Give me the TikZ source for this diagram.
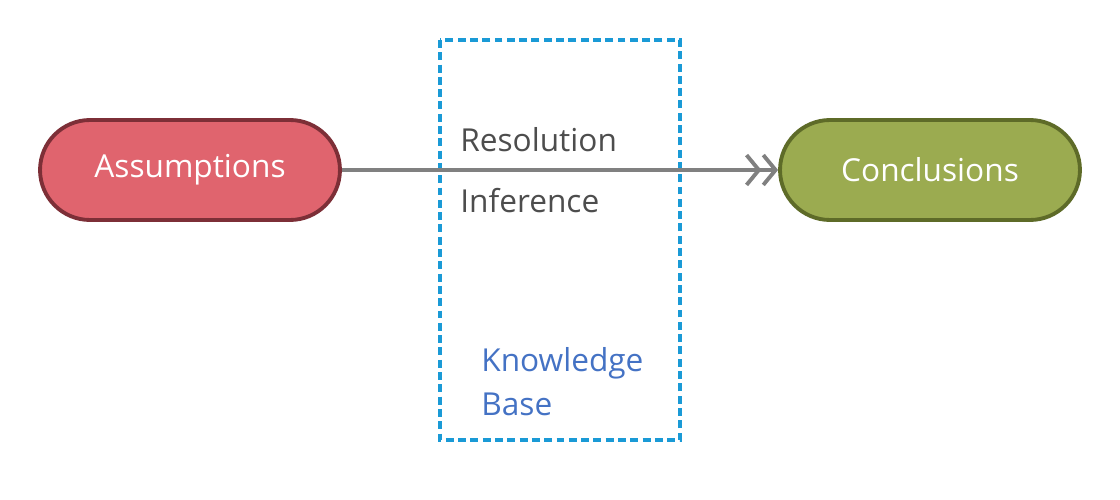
\documentclass[tikz,border=0pt]{standalone}
\usepackage{fontspec}
\setmainfont{Open Sans}
\usetikzlibrary{arrows.meta}
\definecolor{assumefill}{HTML}{E0646E}
\definecolor{assumedraw}{HTML}{7D2F37}
\definecolor{concfill}{HTML}{9BAB50}
\definecolor{concdraw}{HTML}{5E6B28}
\definecolor{kbblue}{HTML}{1A9AD6}
\definecolor{kbtext}{HTML}{4472C4}
\definecolor{labgray}{HTML}{4D4D4D}
\begin{document}
\begin{tikzpicture}
  [x=0.02cm, y=-0.02cm,
   every node/.style={font=\fontsize{18}{24.5}\selectfont},
   pill/.style={rectangle, rounded corners=1cm, minimum width=6cm, minimum height=2cm,
                line width=2.2pt, text=white},
   kbbox/.style={draw=kbblue, line width=2pt, dash pattern=on 4.5pt off 2.5pt},
   rule/.style={draw=gray, line width=2.2pt}]
  \useasboundingbox (0,0) rectangle (1120,500);
  \draw[kbbox] (440,40) rectangle (680,440);
  \node[pill, fill=assumefill, draw=assumedraw] (assume) at (190,170) {Assumptions};
  \node[pill, fill=concfill, draw=concdraw] (concl) at (930,170) {Conclusions};
  \draw[rule, -{Straight Barb[length=7pt,width=17pt]Straight Barb[length=7pt,width=17pt]}]
     (assume) -- (concl);
  \node[anchor=base west, inner sep=0pt, text=labgray] (resol) at (460,152) {Resolution};
  \node[anchor=base west, inner sep=0pt, text=labgray] (infer) at (460,213) {Inference};
  \node[anchor=base west, inner sep=0pt, text=kbtext, align=left] (kb) at (481,415)
     {Knowledge\\Base};
\end{tikzpicture}
\end{document}
